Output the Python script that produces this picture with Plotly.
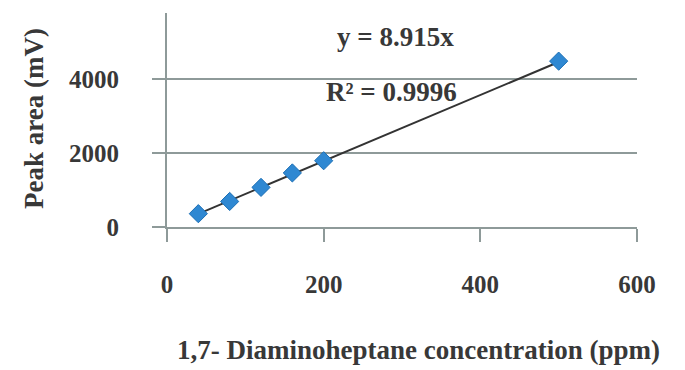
import plotly.graph_objects as go

# Calibration data: concentration (ppm) vs. peak area (mV)
concentration = [40, 80, 120, 160, 200, 500]
peak_area = [360, 690, 1070, 1460, 1790, 4480]

slope = 8.915
r_squared = 0.9996

x_ticks = [0, 200, 400, 600]
y_ticks = [0, 2000, 4000]

W, H = 685, 370
M_L, M_R, M_T, M_B = 167, 48, 13, 143
PW, PH = W - M_L - M_R, H - M_T - M_B

FONT = "Liberation Serif, Times New Roman, serif"
tick_font = dict(family=FONT, color="#383838", size=25, weight="bold")
label_font = dict(family=FONT, color="#383838", size=27, weight="bold")
grid_col = "#8e9a99"

# Trendline through the origin, drawn over the span of the data
trend_x = [min(concentration), max(concentration)]
trend_y = [slope * v for v in trend_x]

fig = go.Figure()
fig.add_trace(go.Scatter(
    x=trend_x, y=trend_y, mode="lines",
    line=dict(color="#333333", width=2), hoverinfo="skip", showlegend=False,
))
fig.add_trace(go.Scatter(
    x=concentration, y=peak_area, mode="markers",
    marker=dict(symbol="diamond", size=14, color="#2f88d2",
                line=dict(color="#1c6fb5", width=1)),
    showlegend=False,
))

# page pixel -> paper (plot-area) fraction
def px_x(p):
    return (p - M_L) / PW

def px_y(p):
    return (H - M_B - p) / PH

annots = [
    dict(text=f"y = {slope}x", x=px_x(395), y=px_y(37)),
    dict(text=f"R² = {r_squared}", x=px_x(391), y=px_y(92)),
    dict(text="1,7- Diaminoheptane concentration (ppm)", x=px_x(418), y=px_y(350)),
    dict(text="Peak area (mV)", x=px_x(34), y=px_y(119), textangle=-90),
]
for a in annots:
    fig.add_annotation(
        xref="paper", yref="paper", xanchor="center", yanchor="middle",
        showarrow=False, font=label_font, **a,
    )

fig.update_layout(
    width=W, height=H,
    margin=dict(l=M_L, r=M_R, t=M_T, b=M_B, autoexpand=False),
    paper_bgcolor="white", plot_bgcolor="white",
    xaxis=dict(
        range=[0, 600], tickvals=x_ticks, showgrid=False, zeroline=False,
        showline=True, linecolor=grid_col, linewidth=2,
        ticks="outside", ticklen=13, tickwidth=2, tickcolor=grid_col,
        tickfont=tick_font, ticklabelstandoff=21,
    ),
    yaxis=dict(
        range=[0, 5780], tickvals=y_ticks, showgrid=True, gridcolor=grid_col, gridwidth=2,
        zeroline=False, showline=True, linecolor=grid_col, linewidth=2,
        ticks="outside", ticklen=13, tickwidth=2, tickcolor=grid_col,
        tickfont=tick_font, ticklabelstandoff=28,
    ),
)

fig.write_html("out.html")
